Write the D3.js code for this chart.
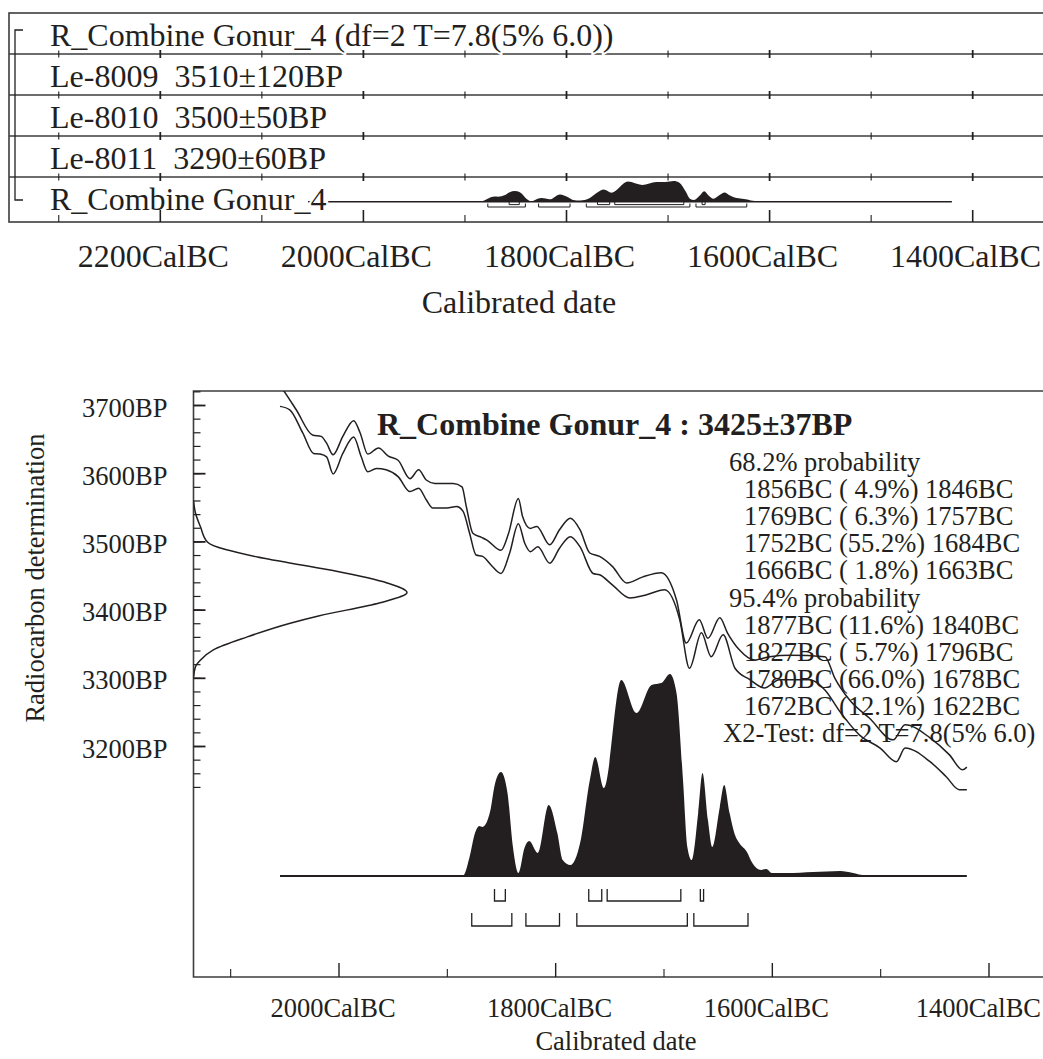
<!DOCTYPE html>
<html>
<head>
<meta charset="utf-8">
<script src="https://cdn.jsdelivr.net/npm/d3@7"></script>
<style>
  body { margin: 0; background: #fff; }
  svg { display: block; }
  text { fill: #231f20; white-space: pre; }
</style>
</head>
<body>
<svg id="chart" width="1043" height="1059"></svg>
<script>
// ---------------- data ----------------
const rowLabels = [
  "R_Combine Gonur_4 (df=2 T=7.8(5% 6.0))",
  "Le-8009  3510\u00b1120BP",
  "Le-8010  3500\u00b150BP",
  "Le-8011  3290\u00b160BP",
  "R_Combine Gonur_4"
];
const topMajorTicks = [2200, 2000, 1800, 1600, 1400];
const topMinorTicks = [2300, 2100, 1900, 1700, 1500];
const bottomMajorTicks = [2000, 1800, 1600, 1400];
const bottomMinorTicks = [2100, 1900, 1700, 1500];
const bpMajorTicks = [3700, 3600, 3500, 3400, 3300, 3200];
const bpMinorTicks = d3.range(3140, 3721, 20);

const combineName = "R_Combine Gonur_4";
const combineBP = 3425, combineErr = 37;
const chiDf = 2, chiT = 7.8, chiCrit = 6.0;

// highest posterior density ranges (cal BC) and their probabilities
const hpd68 = [[1856, 1846], [1769, 1757], [1752, 1684], [1666, 1663]];
const hpd68Pct = [4.9, 6.3, 55.2, 1.8];
const hpd95 = [[1877, 1840], [1827, 1796], [1780, 1678], [1672, 1622]];
const hpd95Pct = [11.6, 5.7, 66.0, 12.1];

// posterior probability of the combined date (relative to its maximum)
const postYear = [2054,1885,1879,1874,1870,1867,1860,1856,1850,1844,1839,1834,1828,1824,1816,1806,1798,1793,1786,1777,1768,1763,1755,1739,1725,1711,1702,1694,1688,1682,1678,1674,1668,1664,1659,1655,1648,1644,1639,1634,1630,1623,1618,1610,1605,1600,1586,1562,1537,1525,1516,1420];
const postProb = [0,0.002,0.094,0.213,0.248,0.243,0.32,0.446,0.515,0.411,0.144,0.015,0.144,0.173,0.114,0.351,0.213,0.079,0.054,0.163,0.475,0.589,0.436,0.970,0.807,0.946,0.955,1.0,0.906,0.475,0.144,0.079,0.312,0.51,0.277,0.144,0.342,0.45,0.312,0.203,0.163,0.119,0.064,0.03,0.035,0.015,0.015,0.02,0.025,0.015,0.005,0];

// calibration curve envelope (upper / lower, BP)
const calUpperYear = [2054,2051,2039,2024,2016,2011,2005,1996,1986,1980,1973,1963,1954,1945,1934,1926,1919,1911,1894,1886,1882,1876,1868,1863,1850,1843,1834,1830,1823,1817,1805,1796,1786,1777,1768,1759,1747,1734,1719,1702,1688,1679,1667,1659,1648,1641,1630,1616,1602,1583,1551,1542,1528,1510,1488,1477,1454,1436,1424,1420];
const calUpperBP   = [3729,3722,3693,3656,3654,3644,3627,3654,3677,3659,3628,3637,3625,3619,3592,3605,3590,3585,3585,3580,3551,3512,3506,3502,3487,3512,3563,3536,3519,3522,3495,3517,3534,3517,3483,3478,3463,3439,3448,3454,3414,3351,3385,3358,3388,3366,3341,3326,3331,3333,3331,3300,3267,3241,3209,3231,3212,3187,3165,3169];
const calLowerYear = [2054,2045,2033,2023,2017,2011,2005,1996,1986,1979,1973,1965,1956,1945,1934,1926,1919,1913,1900,1891,1885,1879,1873,1867,1859,1850,1842,1834,1828,1823,1816,1805,1796,1786,1777,1765,1759,1747,1731,1717,1699,1685,1676,1665,1656,1645,1634,1620,1607,1593,1565,1551,1537,1519,1500,1485,1477,1454,1439,1427,1420];
const calLowerBP   = [3698,3693,3659,3629,3628,3624,3599,3629,3653,3624,3602,3607,3605,3595,3573,3578,3561,3549,3549,3551,3544,3512,3480,3478,3465,3453,3483,3526,3497,3485,3492,3468,3490,3507,3492,3453,3451,3436,3417,3421,3429,3385,3314,3366,3331,3363,3314,3297,3285,3297,3297,3282,3250,3216,3197,3177,3197,3177,3155,3136,3136];

// radiocarbon measurement distribution (relative)
const measBP   = [3560,3542,3521,3499,3477,3458,3439,3425,3410,3391,3380,3360,3341,3326,3316,3301];
const measProb = [0,0.009,0.033,0.065,0.30,0.64,0.907,1.0,0.874,0.59,0.453,0.252,0.093,0.033,0.009,0];

// ---------------- helpers ----------------
const ink = "#231f20";
const frameInk = "#3c3c3c";
const serif = "'Liberation Serif', 'Times New Roman', Times, serif";
const svg = d3.select("#chart");
const post = postYear.map((y, i) => ({ yr: y, p: postProb[i] }));
const calUpper = calUpperYear.map((y, i) => ({ yr: y, bp: calUpperBP[i] }));
const calLower = calLowerYear.map((y, i) => ({ yr: y, bp: calLowerBP[i] }));
const meas = measBP.map((b, i) => ({ bp: b, p: measProb[i] }));
const fmtPct = v => v.toFixed(1).padStart(4, " ");

function cleanAxis(g, width) {
  g.select(".domain").remove();
  g.attr("font-family", null).attr("font-size", null);
  g.selectAll(".tick line").attr("stroke", ink).attr("stroke-width", width);
}

// ================= upper panel: multiple plot =================
const upper = svg.append("g");
const xT = d3.scaleLinear().domain([1800, 1400]).range([566, 972.2]);
const rowTop = i => 13 + i * 41;
const upperBottom = 222;

upper.append("rect")
  .attr("x", 9).attr("y", 13).attr("width", 1100).attr("height", upperBottom - 13)
  .attr("fill", "none").attr("stroke", frameInk).attr("stroke-width", 1.6);

// row separators with crossing ticks
d3.range(1, rowLabels.length).forEach(i => {
  const y = rowTop(i);
  upper.append("line").attr("x1", 9).attr("x2", 1100).attr("y1", y).attr("y2", y)
    .attr("stroke", frameInk).attr("stroke-width", 1.6);
  upper.append("g").attr("transform", `translate(0,${y - 4})`)
    .call(d3.axisBottom(xT).tickValues(topMajorTicks).tickSize(8).tickFormat(""))
    .call(g => cleanAxis(g, 1.8));
  upper.append("g").attr("transform", `translate(0,${y - 3.5})`)
    .call(d3.axisBottom(xT).tickValues(topMinorTicks).tickSize(7).tickFormat(""))
    .call(g => cleanAxis(g, 1.1));
});

// miniature posterior in the last row
const miniBase = 201.7;
const pT = d3.scaleLinear().domain([0, 1]).range([miniBase, 181]);
upper.append("path").datum(post)
  .attr("d", d3.area().x(d => xT(d.yr)).y0(miniBase).y1(d => pT(d.p)).curve(d3.curveMonotoneX))
  .attr("fill", ink);
upper.append("line")
  .attr("x1", xT(postYear[0])).attr("x2", xT(postYear[postYear.length - 1]))
  .attr("y1", miniBase).attr("y2", miniBase)
  .attr("stroke", ink).attr("stroke-width", 1.6);
upper.selectAll("path.m68").data(hpd68).join("path").attr("class", "m68")
  .attr("d", d => `M${xT(d[0])},${miniBase} V204.6 H${xT(d[1])} V${miniBase}`)
  .attr("fill", "none").attr("stroke", ink).attr("stroke-width", 1);
upper.selectAll("path.m95").data(hpd95).join("path").attr("class", "m95")
  .attr("d", d => `M${xT(d[0])},203.5 V207 H${xT(d[1])} V203.5`)
  .attr("fill", "none").attr("stroke", ink).attr("stroke-width", 1);

// row labels (white halo keeps them legible over the plotted line)
upper.selectAll("text.row").data(rowLabels).join("text")
  .attr("class", "row")
  .attr("x", 50).attr("y", (d, i) => rowTop(i) + 33)
  .attr("font-size", 32)
  .attr("stroke", "#fff").attr("stroke-width", 4).attr("paint-order", "stroke")
  .text(d => d);

// group bracket
upper.append("path")
  .attr("d", "M23,30 H15 V200 H23")
  .attr("fill", "none").attr("stroke", ink).attr("stroke-width", 1.3);

// bottom axis of upper panel
upper.append("g").attr("transform", `translate(0,${upperBottom})`)
  .call(d3.axisBottom(xT).tickValues(topMajorTicks).tickSize(-12).tickPadding(22)
    .tickFormat(d => d + "CalBC"))
  .call(g => cleanAxis(g, 1.6))
  .call(g => g.selectAll(".tick text").attr("font-size", 32).attr("fill", ink).attr("dx", -7));
upper.append("g").attr("transform", `translate(0,${upperBottom})`)
  .call(d3.axisBottom(xT).tickValues(topMinorTicks).tickSize(-7).tickFormat(""))
  .call(g => cleanAxis(g, 1.1));

upper.append("text").attr("x", 519).attr("y", 313).attr("text-anchor", "middle")
  .attr("font-size", 32).text("Calibrated date");

// ================= lower panel: calibration plot =================
const lower = svg.append("g");
const xB = d3.scaleLinear().domain([2000, 1400]).range([338.5, 988.5]);
const yB = d3.scaleLinear().domain([3200, 3700]).range([746, 405]);
const frameLeft = 193.5, frameTop = 391, frameBottom = 977;

lower.append("defs").append("clipPath").attr("id", "plotClip")
  .append("rect").attr("x", frameLeft).attr("y", frameTop)
  .attr("width", 1100).attr("height", frameBottom - frameTop);

lower.append("path")
  .attr("d", `M1100,${frameTop} H${frameLeft} V${frameBottom} H1100`)
  .attr("fill", "none").attr("stroke", frameInk).attr("stroke-width", 1.6);

// x axis
lower.append("g").attr("transform", `translate(0,${frameBottom})`)
  .call(d3.axisBottom(xB).tickValues(bottomMajorTicks).tickSize(-14).tickPadding(21)
    .tickFormat(d => d + "CalBC"))
  .call(g => cleanAxis(g, 1.4))
  .call(g => g.selectAll(".tick text").attr("font-size", 26.5).attr("fill", ink).attr("dx", -6));
lower.append("g").attr("transform", `translate(0,${frameBottom})`)
  .call(d3.axisBottom(xB).tickValues(bottomMinorTicks).tickSize(-8).tickFormat(""))
  .call(g => cleanAxis(g, 1.1));
lower.append("text").attr("x", 616).attr("y", 1050).attr("text-anchor", "middle")
  .attr("font-size", 26.5).text("Calibrated date");

// y axis
lower.append("g").attr("transform", `translate(${frameLeft},0)`)
  .call(d3.axisLeft(yB).tickValues(bpMinorTicks).tickSize(-7).tickFormat(""))
  .call(g => cleanAxis(g, 1.2));
lower.append("g").attr("transform", `translate(${frameLeft},0)`)
  .call(d3.axisLeft(yB).tickValues(bpMajorTicks).tickSize(-12).tickPadding(26)
    .tickFormat(d => d + "BP"))
  .call(g => cleanAxis(g, 1.8))
  .call(g => g.selectAll(".tick text").attr("font-size", 26.5).attr("fill", ink).attr("dy", "0.42em"));
lower.append("text").attr("transform", "translate(35,578) rotate(-90)")
  .attr("text-anchor", "middle").attr("dy", "0.35em")
  .attr("font-size", 26.5).text("Radiocarbon determination");

const plot = lower.append("g").attr("clip-path", "url(#plotClip)");

// calibration curve envelope
const calLine = d3.line().x(d => xB(d.yr)).y(d => yB(d.bp)).curve(d3.curveMonotoneX);
[calUpper, calLower].forEach(series => {
  plot.append("path").datum(series).attr("d", calLine)
    .attr("fill", "none").attr("stroke", ink).attr("stroke-width", 1.5);
});

// measurement distribution on the y axis
const gx = d3.scaleLinear().domain([0, 1]).range([frameLeft, 407]);
plot.append("path").datum(meas)
  .attr("d", d3.line().x(d => gx(d.p)).y(d => yB(d.bp)).curve(d3.curveMonotoneY))
  .attr("fill", "none").attr("stroke", ink).attr("stroke-width", 1.5);

// posterior distribution
const postBase = 876;
const pB = d3.scaleLinear().domain([0, 1]).range([postBase, 674]);
plot.append("path").datum(post)
  .attr("d", d3.area().x(d => xB(d.yr)).y0(postBase).y1(d => pB(d.p)).curve(d3.curveMonotoneX))
  .attr("fill", ink);
plot.append("line")
  .attr("x1", xB(postYear[0])).attr("x2", xB(postYear[postYear.length - 1]))
  .attr("y1", postBase).attr("y2", postBase)
  .attr("stroke", ink).attr("stroke-width", 2.2);

// HPD range brackets
plot.selectAll("path.b68").data(hpd68).join("path").attr("class", "b68")
  .attr("d", d => `M${xB(d[0])},889 V901 H${xB(d[1])} V889`)
  .attr("fill", "none").attr("stroke", ink).attr("stroke-width", 1.3);
plot.selectAll("path.b95").data(hpd95).join("path").attr("class", "b95")
  .attr("d", d => `M${xB(d[0])},913 V926 H${xB(d[1])} V913`)
  .attr("fill", "none").attr("stroke", ink).attr("stroke-width", 1.3);

// title and probability summary
lower.append("text").attr("x", 377).attr("y", 435)
  .attr("font-size", 32).attr("font-weight", "bold")
  .text(`${combineName} : ${combineBP}\u00b1${combineErr}BP`);

const summary = [{ t: "68.2% probability", x: 729 }]
  .concat(hpd68.map((r, i) => ({ t: `${r[0]}BC (${fmtPct(hpd68Pct[i])}%) ${r[1]}BC`, x: 744 })))
  .concat([{ t: "95.4% probability", x: 729 }])
  .concat(hpd95.map((r, i) => ({ t: `${r[0]}BC (${fmtPct(hpd95Pct[i])}%) ${r[1]}BC`, x: 744 })))
  .concat([{ t: `X2-Test: df=${chiDf} T=${chiT.toFixed(1)}(5% ${chiCrit.toFixed(1)})`, x: 723 }]);

lower.selectAll("text.sum").data(summary).join("text").attr("class", "sum")
  .attr("x", d => d.x).attr("y", (d, i) => 471 + i * 27.1)
  .attr("font-size", 26.5).text(d => d.t);

// every label in the Times-style serif face
svg.selectAll("text").style("font-family", serif).style("fill", ink);

// keep the right-most tick labels inside the page
svg.selectAll(".tick text").each(function () {
  const b = this.getBBox();
  const ctm = this.getCTM();
  const right = ctm.e + b.x + b.width;
  if (right > 1041) {
    const dx = parseFloat(d3.select(this).attr("dx")) || 0;
    d3.select(this).attr("dx", dx - (right - 1041));
  }
});
</script>
</body>
</html>
